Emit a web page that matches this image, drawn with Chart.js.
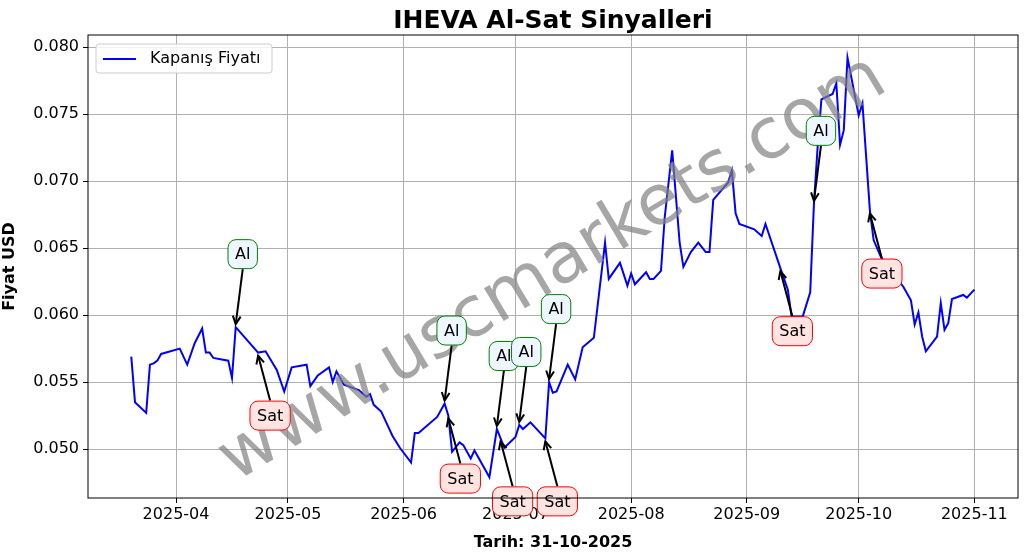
<!DOCTYPE html>
<html><head><meta charset="utf-8">
<script src="https://cdn.jsdelivr.net/npm/chart.js@4"></script>
<style>html,body{margin:0;padding:0;background:#fff}#w{width:1028px;height:554px}</style>
</head><body><div id="w"><canvas id="c"></canvas></div>
<script>
// day of year 2025 (Jan 1 = 0)
const days = [78,79,82,83,84,85,86,91,93,95,97,98,99,100,104,105,106,112,114,117,119,121,125,126,128,131,132,133,135,139,141,142,143,145,147,148,150,153,154,155,160,162,163,164,166,167,169,170,174,176,177,178,181,182,183,185,189,190,191,192,195,197,199,202,205,206,209,211,212,213,216,217,218,220,221,223,225,226,228,230,232,233,234,238,239,240,241,245,247,248,252,254,255,258,260,261,262,263,266,267,268,269,270,273,274,276,277,279,285,287,288,289,290,291,294,295,296,297,298,301,302,304];
const closePrices = [0.0569,0.0535,0.0527,0.0563,0.0564,0.0566,0.0571,0.0575,0.0563,0.0579,0.0590,0.0572,0.0572,0.0568,0.0566,0.0553,0.0591,0.0572,0.0573,0.0559,0.0543,0.0561,0.0563,0.0547,0.0555,0.0561,0.0550,0.0558,0.0548,0.0544,0.0539,0.0541,0.0533,0.0528,0.0516,0.0510,0.0501,0.0490,0.0512,0.0512,0.0524,0.0534,0.0525,0.0498,0.0505,0.0503,0.0493,0.0499,0.0479,0.0515,0.0508,0.0501,0.0509,0.0518,0.0515,0.0520,0.0508,0.0550,0.0542,0.0543,0.0563,0.0552,0.0576,0.0583,0.0654,0.0627,0.0639,0.0622,0.0631,0.0623,0.0632,0.0627,0.0627,0.0633,0.0673,0.0723,0.0654,0.0636,0.0647,0.0654,0.0647,0.0647,0.0686,0.0699,0.0708,0.0676,0.0668,0.0664,0.0659,0.0668,0.0635,0.0619,0.0599,0.0599,0.0617,0.0683,0.0726,0.0761,0.0765,0.0773,0.0727,0.0738,0.0792,0.0749,0.0758,0.0678,0.0656,0.0643,0.0621,0.0611,0.0593,0.0602,0.0584,0.0573,0.0584,0.0609,0.0589,0.0594,0.0612,0.0615,0.0613,0.0619];
const buyDays = [106,162,176,182,190,261];
const sellDays = [112,163,177,189,252,276];
const monthTicks = [90,120,151,181,212,243,273,304];
const monthLabels = ['2025-04','2025-05','2025-06','2025-07','2025-08','2025-09','2025-10','2025-11'];
const yTicks = [0.050,0.055,0.060,0.065,0.070,0.075,0.080];

const points = days.map((d,i)=>({x:d,y:closePrices[i]}));
function valAt(d){const i=days.indexOf(d);return closePrices[i];}
const F='DejaVu Sans';

const deco = {
  id:'deco',
  afterDatasetsDraw(ch){
    const {ctx,scales:{x,y},chartArea:a}=ch;
    ctx.save();
    ctx.translate(553,270);ctx.rotate(-31*Math.PI/180);
    ctx.fillStyle='rgba(128,128,128,0.7)';ctx.font='70px '+F;ctx.textAlign='center';ctx.textBaseline='middle';
    ctx.fillText('www.uscmarkets.com',0,0);
    ctx.restore();
    function box(cx,cy,txt,stroke,fill){
      ctx.save();ctx.font='16px '+F;
      const w=ctx.measureText(txt).width+14,h=29;
      ctx.beginPath();ctx.roundRect(cx-w/2,cy-h/2,w,h,8);
      ctx.fillStyle=fill;ctx.fill();ctx.strokeStyle=stroke;ctx.lineWidth=1;ctx.stroke();
      ctx.fillStyle='#000';ctx.textAlign='center';ctx.textBaseline='middle';ctx.fillText(txt,cx,cy+1);
      ctx.restore();
    }
    function arrow(x0,y0,x1,y1){
      ctx.save();ctx.strokeStyle='#000';ctx.lineWidth=2;
      ctx.beginPath();ctx.moveTo(x0,y0);ctx.lineTo(x1,y1);ctx.stroke();
      const ang=Math.atan2(y1-y0,x1-x0),L=9;
      ctx.beginPath();ctx.moveTo(x1-L*Math.cos(ang-0.45),y1-L*Math.sin(ang-0.45));ctx.lineTo(x1,y1);
      ctx.lineTo(x1-L*Math.cos(ang+0.45),y1-L*Math.sin(ang+0.45));ctx.stroke();ctx.restore();
    }
    buyDays.forEach(d=>{
      const px=x.getPixelForValue(d),py=y.getPixelForValue(valAt(d))-3;
      const bx=px+7,by=py-70;
      arrow(bx,by+15,px,py);box(bx,by,'Al','green','#eef6ff');
    });
    sellDays.forEach(d=>{
      const px=x.getPixelForValue(d),py=y.getPixelForValue(valAt(d))+3;
      const bx=px+12,by=py+60;
      arrow(bx,by-15,px,py);box(bx,by,'Sat','red','#ffe4e1');
    });
    ctx.save();
    ctx.beginPath();ctx.roundRect(a.left+8,a.top+9,176,29,3);ctx.fillStyle='rgba(255,255,255,0.85)';ctx.fill();
    ctx.strokeStyle='#ccc';ctx.stroke();
    ctx.strokeStyle='blue';ctx.lineWidth=2;ctx.beginPath();ctx.moveTo(a.left+15,a.top+24);ctx.lineTo(a.left+48,a.top+24);ctx.stroke();
    ctx.fillStyle='#000';ctx.font='16px '+F;ctx.textBaseline='middle';ctx.fillText('Kapanış Fiyatı',a.left+62,a.top+24);
    ctx.font='bold 25px '+F;ctx.textAlign='center';ctx.fillText('IHEVA Al-Sat Sinyalleri',553,21);
    ctx.strokeStyle='#000';ctx.lineWidth=1;ctx.strokeRect(a.left,a.top,a.right-a.left,a.bottom-a.top);
    ctx.restore();
  }
};

new Chart(document.getElementById('c'),{
  type:'line',
  data:{datasets:[{label:'Kapanış Fiyatı',data:points,borderColor:'blue',borderWidth:2,pointRadius:0,tension:0,fill:false}]},
  options:{
    responsive:true,maintainAspectRatio:false,animation:false,
    layout:{padding:{top:35,right:10,left:0,bottom:0}},
    plugins:{legend:{display:false},tooltip:{enabled:false}},
    scales:{
      x:{type:'linear',min:66.4,max:315.7,
        afterBuildTicks:s=>{s.ticks=monthTicks.map(v=>({value:v}));},
        afterFit:s=>{s.height=56;},
        ticks:{color:'#000',font:{family:F,size:16},maxRotation:0,autoSkip:false,padding:2,
          callback:(v)=>monthLabels[monthTicks.indexOf(v)]},
        grid:{color:'#b0b0b0',drawTicks:true,tickLength:5,tickColor:'#000'},border:{display:false},
        title:{display:true,text:'Tarih: 31-10-2025',color:'#000',font:{family:F,size:16,weight:'bold'},padding:{top:0,bottom:2}}},
      y:{min:0.04635,max:0.0809,
        afterBuildTicks:s=>{s.ticks=yTicks.map(v=>({value:v}));},
        afterFit:s=>{s.width=88;},
        ticks:{color:'#000',font:{family:F,size:16},padding:4,callback:v=>v.toFixed(3)},
        grid:{color:'#b0b0b0',tickLength:5,tickColor:'#000'},border:{display:false},
        title:{display:true,text:'Fiyat USD',color:'#000',font:{family:F,size:16,weight:'bold'},padding:{bottom:0,top:0}}}
    }
  },
  plugins:[deco]
});
</script></body></html>
